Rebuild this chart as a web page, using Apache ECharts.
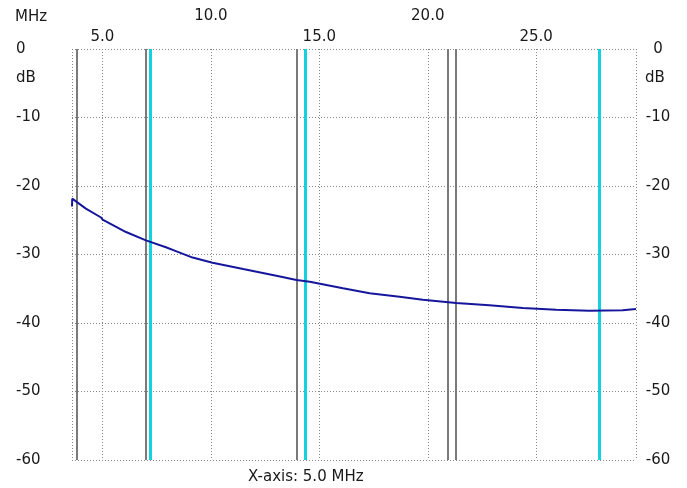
<!DOCTYPE html>
<html>
<head>
<meta charset="utf-8">
<script src="https://cdn.jsdelivr.net/npm/echarts@6/dist/echarts.min.js"></script>
<style>
html,body{margin:0;padding:0;background:#fff;}
#c{width:687px;height:488px;}
</style>
</head>
<body>
<div id="c"></div>
<script>
// Frequency (MHz) and level (dB)
var freqMHz = [3.6, 3.61, 3.63, 4.24, 4.94, 5.01, 6.09, 7.01, 7.93, 8.39, 9.16, 10.08, 11.49, 13.02, 13.95, 14.56, 16.09, 17.32, 18.70, 19.77, 21.31, 22.84, 24.38, 25.92, 27.45, 28.98, 29.6];
var levelDb = [-23.0, -21.85, -21.94, -23.31, -24.6, -24.9, -26.72, -27.93, -28.95, -29.5, -30.45, -31.20, -32.12, -33.10, -33.73, -33.97, -34.94, -35.67, -36.16, -36.60, -37.08, -37.42, -37.81, -38.06, -38.21, -38.15, -37.96];
// Vertical marker lines (MHz)
var grayMarkers = [3.82, 6.98, 13.96, 20.90, 21.31];
var cyanMarkers = [7.22, 14.34, 27.92];
// Axis ranges / tick labels
var xMin = 3.6, xMax = 29.6;
var xTickLabels = [5, 10, 15, 20, 25];
var xUpperRow = [10, 20];
var yMin = -60, yMax = 0, yStep = 10;

var font = 'DejaVu Sans';
var txt = '#1a1a1a';
var dotted = [1, 2];

var chart = echarts.init(document.getElementById('c'));
var trace = freqMHz.map(function (f, i) { return [f, levelDb[i]]; });
var marks = grayMarkers.map(function (v) {
  return { xAxis: v, lineStyle: { color: '#7a7a7a', width: 2, type: 'solid' } };
}).concat(cyanMarkers.map(function (v) {
  return { xAxis: v, lineStyle: { color: '#12d2e0', width: 3, type: 'solid' } };
}));

chart.setOption({
  animation: false,
  backgroundColor: '#ffffff',
  grid: { left: 72, right: 51, top: 49, bottom: 28, containLabel: false },
  xAxis: {
    type: 'value', position: 'top', min: xMin, max: xMax,
    axisLine: { show: false }, axisTick: { show: false },
    splitLine: { show: true, lineStyle: { color: '#888888', width: 1, type: dotted } },
    axisLabel: {
      show: true, showMinLabel: false, showMaxLabel: false,
      fontFamily: font, fontSize: 15, color: txt, margin: 1, lineHeight: 21,
      formatter: function (v) {
        var r = Math.round(v * 100) / 100;
        if (xTickLabels.indexOf(r) < 0) return '';
        var s = r.toFixed(1);
        return xUpperRow.indexOf(r) >= 0 ? s + '\n ' : s;
      }
    }
  },
  yAxis: [{
    type: 'value', min: yMin, max: yMax, interval: yStep, position: 'left',
    axisLine: { show: false }, axisTick: { show: false },
    splitLine: { show: true, lineStyle: { color: '#888888', width: 1, type: dotted } },
    axisLabel: { fontFamily: font, fontSize: 15, color: txt, margin: 56, align: 'left' }
  }, {
    type: 'value', min: yMin, max: yMax, interval: yStep, position: 'right',
    axisLine: { show: false }, axisTick: { show: false }, splitLine: { show: false },
    axisLabel: { fontFamily: font, fontSize: 15, color: txt, margin: 22, align: 'center' }
  }],
  series: [{
    type: 'line', data: trace, symbol: 'none', z: 3,
    lineStyle: { color: '#16169c', width: 2 },
    markLine: {
      silent: true, symbol: 'none', z: 1, animation: false,
      label: { show: false }, emphasis: { disabled: true },
      data: marks
    }
  }],
  graphic: [
    { type: 'text', left: 15, top: 10, style: { text: 'MHz', font: '15px ' + font, fill: txt } },
    { type: 'text', left: 16, top: 71, style: { text: 'dB', font: '15px ' + font, fill: txt } },
    { type: 'text', left: 645, top: 71, style: { text: 'dB', font: '15px ' + font, fill: txt } },
    { type: 'text', left: 248, top: 470, style: { text: 'X-axis: 5.0 MHz', font: '15px ' + font, fill: txt } }
  ]
});
</script>
</body>
</html>
